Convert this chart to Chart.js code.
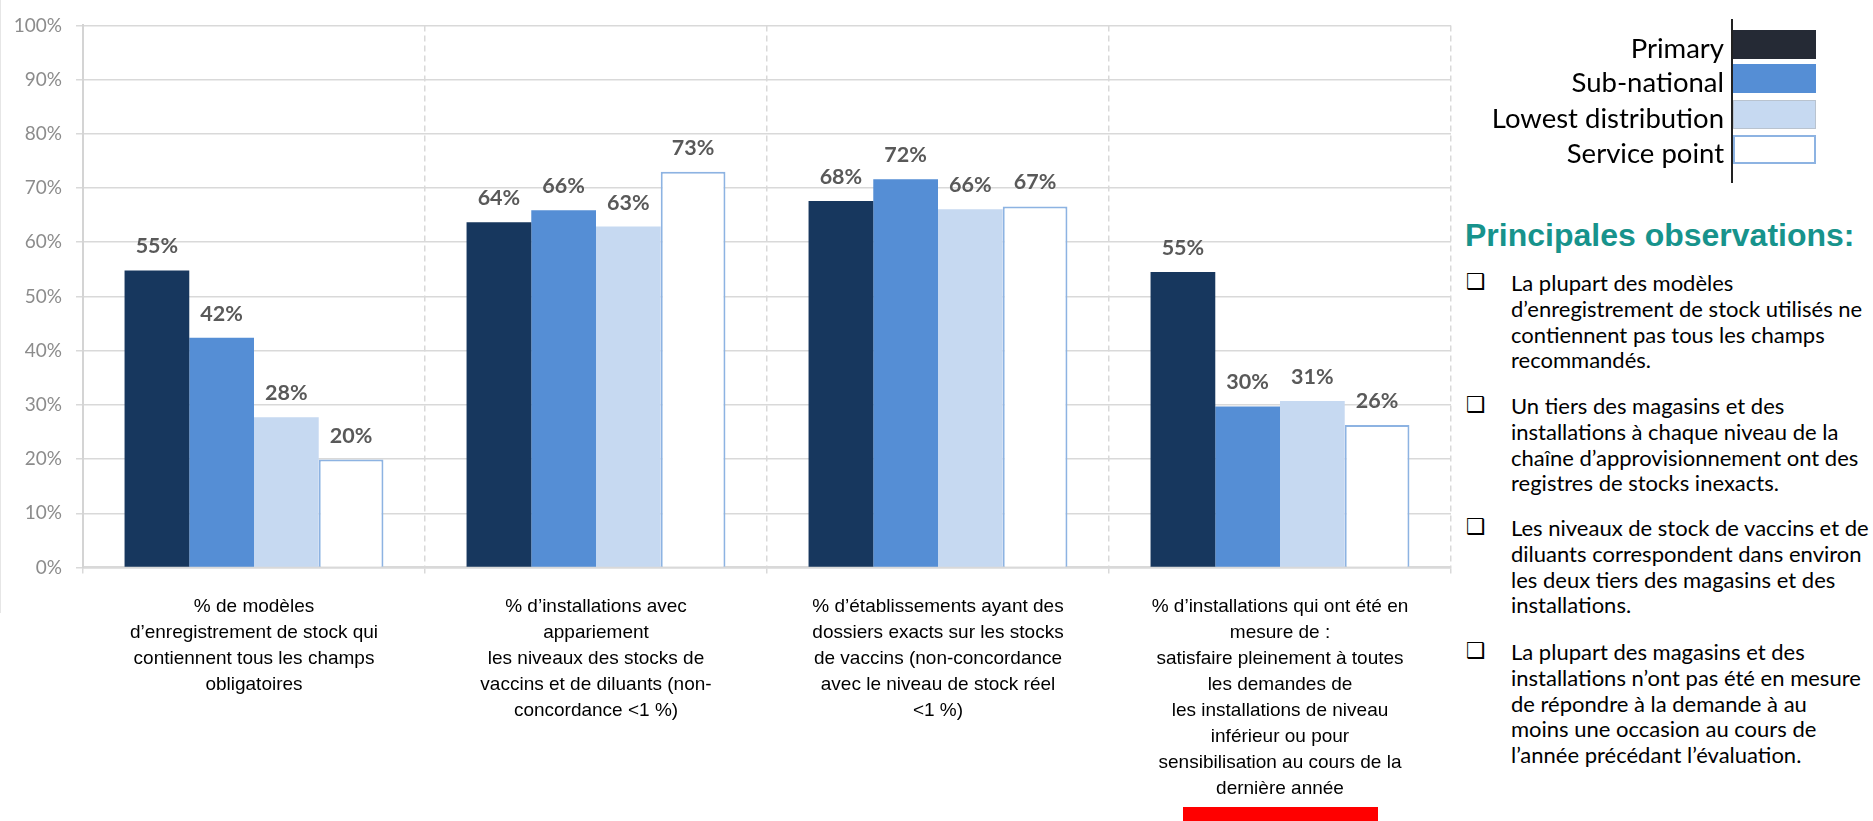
<!DOCTYPE html>
<html>
<head>
<meta charset="utf-8">
<script src="https://cdn.jsdelivr.net/npm/chart.js@4.4.1/dist/chart.umd.min.js"></script>
<style>
  html, body { margin: 0; padding: 0; background: #fff; width: 1873px; height: 821px; overflow: hidden; }
  #wrap { position: absolute; left: 0; top: 0; width: 1456px; height: 821px; }
  #leftline { position: absolute; left: 0; top: 0; width: 1px; height: 613px; background: #e6e6e6; }
  #legend { position: absolute; left: 1450px; top: 19px; width: 370px; height: 165px; }
  #legend .vline { position: absolute; left: 281px; top: 0; width: 1.5px; height: 164px; background: #222; }
  #legend .item { position: absolute; height: 30px; display: flex; align-items: center; }
  #legend .lbl { font-family: Lato, sans-serif; font-size: 27.5px; color: #000; text-align: right; margin-right: 9px; white-space: nowrap; position: relative; top: 3px; }
  #legend .sw { width: 83px; height: 29px; box-sizing: border-box; }
  #obsTitle { position: absolute; left: 1465px; top: 217px; font-family: "Liberation Sans", Arial, sans-serif; font-weight: bold; font-size: 32px; color: #17938c; white-space: nowrap; }
  .para { position: absolute; left: 1466px; font-family: Lato, sans-serif; font-size: 22px; color: #000; line-height: 25.8px; }
  .para .box { position: absolute; left: 0; top: -1px; font-family: "DejaVu Sans", sans-serif; font-size: 22px; }
  .para .txt { position: absolute; left: 45px; top: 0; white-space: nowrap; }
  #redbar { position: absolute; left: 1183px; top: 807px; width: 195px; height: 14px; background: #ff0000; }
</style>
</head>
<body>
<div id="leftline"></div>
<div id="wrap"><canvas id="c"></canvas></div>
<div id="legend"></div>
<div id="obsTitle">Principales observations:</div>
<div id="obs"></div>
<div id="redbar"></div>
<script>
// ---- Data ----
const categories = [
  ["% de modèles", "d’enregistrement de stock qui", "contiennent tous les champs", "obligatoires"],
  ["% d’installations avec", "appariement", "les niveaux des stocks de", "vaccins et de diluants (non-", "concordance <1 %)"],
  ["% d’établissements ayant des", "dossiers exacts sur les stocks", "de vaccins (non-concordance", "avec le niveau de stock réel", "<1 %)"],
  ["% d’installations qui ont été en", "mesure de :", "satisfaire pleinement à toutes", "les demandes de", "les installations de niveau", "inférieur ou pour", "sensibilisation au cours de la", "dernière année"]
];
const seriesNames = ["Primary", "Sub-national", "Lowest distribution", "Service point"];
const primary = [54.8, 63.7, 67.6, 54.5];
const subNational = [42.4, 65.9, 71.6, 29.7];
const lowestDistribution = [27.7, 62.9, 66.1, 30.7];
const servicePoint = [19.9, 73.0, 66.6, 26.3];
const dataLabels = [
  ["55%", "64%", "68%", "55%"],
  ["42%", "66%", "72%", "30%"],
  ["28%", "63%", "66%", "31%"],
  ["20%", "73%", "67%", "26%"]
];
const yTicks = [0, 10, 20, 30, 40, 50, 60, 70, 80, 90, 100];
const observations = [
  ["La plupart des modèles", "d’enregistrement de stock utilisés ne", "contiennent pas tous les champs", "recommandés."],
  ["Un tiers des magasins et des", "installations à chaque niveau de la", "chaîne d’approvisionnement ont des", "registres de stocks inexacts."],
  ["Les niveaux de stock de vaccins et de", "diluants correspondent dans environ", "les deux tiers des magasins et des", "installations."],
  ["La plupart des magasins et des", "installations n’ont pas été en mesure", "de répondre à la demande à au", "moins une occasion au cours de", "l’année précédant l’évaluation."]
];

// ---- Styles ----
const fills = ["#17375e", "#558ed5", "#c6d9f1", "#ffffff"];
const borders = ["#17375e", "#558ed5", "#c6d9f1", "#8db3e2"];
const borderWidths = [0, 0, 0, 2];
const legendFills = ["#252a35", "#558ed5", "#c6d9f1", "#ffffff"];
const legendBorders = ["#252a35", "#558ed5", "#b9c3cf", "#8db3e2"];

const seriesValues = [primary, subNational, lowestDistribution, servicePoint];

const labelPlugin = {
  id: 'barLabels',
  afterDatasetsDraw(chart) {
    const ctx = chart.ctx;
    ctx.save();
    ctx.font = 'bold 21.5px Lato, sans-serif';
    ctx.fillStyle = '#595959';
    ctx.textAlign = 'center';
    ctx.textBaseline = 'alphabetic';
    chart.data.datasets.forEach((ds, i) => {
      const meta = chart.getDatasetMeta(i);
      meta.data.forEach((bar, j) => {
        ctx.fillText(dataLabels[i][j], bar.x, bar.y - 17);
      });
    });
    ctx.restore();
  }
};

new Chart(document.getElementById('c'), {
  type: 'bar',
  data: {
    labels: categories,
    datasets: seriesNames.map((name, i) => ({
      label: name,
      data: seriesValues[i],
      backgroundColor: fills[i],
      borderColor: borders[i],
      borderWidth: borderWidths[i],
      categoryPercentage: 0.757,
      barPercentage: 1.0
    }))
  },
  options: {
    responsive: true,
    maintainAspectRatio: false,
    animation: false,
    layout: { padding: { top: 19, right: 5, left: 0, bottom: 0 } },
    plugins: { legend: { display: false }, tooltip: { enabled: false } },
    scales: {
      x: {
        grid: { offset: true, color: '#d9d9d9', lineWidth: 1.5, tickLength: 6, drawTicks: true },
        border: { display: true, color: '#d9d9d9', width: 2.5, dash: [6, 4] },
        ticks: {
          color: '#000',
          font: { family: '"Liberation Sans", Arial, sans-serif', size: 19, lineHeight: '26.1px' },
          padding: 20,
          maxRotation: 0,
          minRotation: 0,
          autoSkip: false
        },
        afterFit(scale) { scale.height = 253.5; }
      },
      y: {
        min: 0,
        max: 100,
        afterBuildTicks(scale) { scale.ticks = yTicks.map(v => ({ value: v })); },
        grid: { color: '#d9d9d9', lineWidth: 1.5, tickLength: 7 },
        border: { display: true, color: '#d4d4d4', width: 2 },
        ticks: {
          color: '#8c8c8c',
          font: { family: 'Lato, sans-serif', size: 19 },
          padding: 14,
          callback: v => v + '%'
        },
        afterFit(scale) { scale.width = 83; }
      }
    }
  },
  plugins: [labelPlugin]
});

// ---- Legend (HTML) ----
const legend = document.getElementById('legend');
const vline = document.createElement('div');
vline.className = 'vline';
legend.appendChild(vline);
const legendTops = [10, 44, 80, 115];
seriesNames.forEach((name, i) => {
  const it = document.createElement('div');
  it.className = 'item';
  it.style.top = legendTops[i] + 'px';
  it.style.right = (370 - 281 - 85) + 'px';
  const l = document.createElement('span');
  l.className = 'lbl';
  l.textContent = name;
  const s = document.createElement('span');
  s.className = 'sw';
  s.style.background = legendFills[i];
  s.style.border = (i === 3 ? '2px' : '1px') + ' solid ' + legendBorders[i];
  it.appendChild(l);
  it.appendChild(s);
  legend.appendChild(it);
});

// ---- Observations ----
const obs = document.getElementById('obs');
const paraTops = [270, 393, 515, 639];
observations.forEach((lines, i) => {
  const p = document.createElement('div');
  p.className = 'para';
  p.style.top = paraTops[i] + 'px';
  const b = document.createElement('span');
  b.className = 'box';
  b.textContent = '❑';
  const t = document.createElement('div');
  t.className = 'txt';
  t.innerHTML = lines.map(s => s.replace(/&/g, '&amp;').replace(/</g, '&lt;')).join('<br>');
  p.appendChild(b);
  p.appendChild(t);
  obs.appendChild(p);
});
</script>
</body>
</html>
